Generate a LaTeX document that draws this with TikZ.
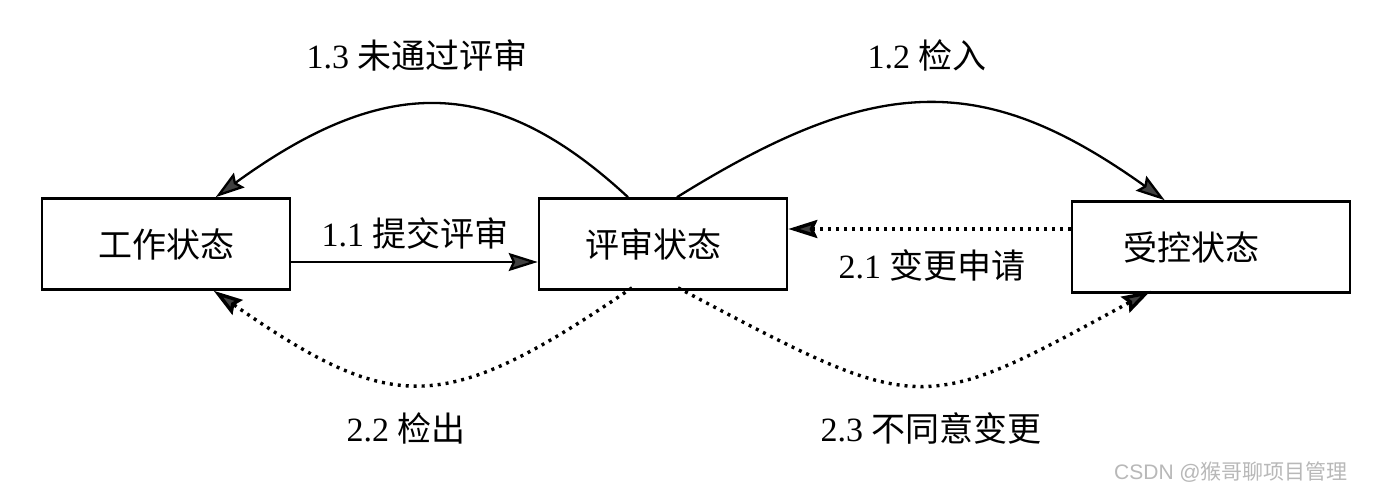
\documentclass[tikz,border=0pt]{standalone}
\usepackage{fontspec}
\setmainfont{Liberation Serif}
\setsansfont{Liberation Sans}
\newfontfamily\cjk{Noto Sans CJK SC}
\usetikzlibrary{arrows.meta,calc}
\begin{document}
\begin{tikzpicture}[x=1pt,y=-1pt,
  statebox/.style={draw=black,line width=2.6pt,minimum height=91pt,inner sep=0pt,
    font=\fontsize{34}{40}\selectfont\cjk},
  lbl/.style={font=\fontsize{34}{40}\selectfont, inner sep=0pt},
  tip/.style={-{Stealth[length=29pt,width=18pt,inset=4pt,fill=black!75]}},
  solidarrow/.style={tip,line width=2.3pt},
  dotarrow/.style={tip,line width=3.4pt,dash pattern=on 3pt off 5pt}]
\useasboundingbox[fill=white] (0,0) rectangle (1381,500);

\node[statebox,minimum width=248pt] (work) at (166,244) {工作状态};
\node[statebox,minimum width=248pt] (rev) at (663,244) {评审状态\hspace*{20pt}};
\node[statebox,minimum width=278pt] (ctrl) at (1211,247) {受控状态\hspace*{40pt}};

% 1.1
\draw[solidarrow] (work.east |- 0,262) -- (rev.west |- 0,262);
% 2.1
\draw[dotarrow] (ctrl.west |- 0,229) -- (rev.east |- 0,229);
% 1.3
\draw[solidarrow] ([xshift=-35pt]rev.north) .. controls (495,74) and (385,74) .. ([xshift=175pt]work.north west);
% 1.2
\draw[solidarrow] ([xshift=14pt]rev.north) .. controls (878,72) and (985,72) .. ([xshift=94pt]ctrl.north west);
% 2.2
\draw[dotarrow] ([xshift=-31pt,yshift=3pt]rev.south) .. controls (444,416) and (394,416) .. ([xshift=173pt]work.south west);
% 2.3
\draw[dotarrow] ([xshift=15pt,yshift=3pt]rev.south) .. controls (922,417) and (919,417) .. ([xshift=80pt,yshift=3pt]ctrl.south west);

\node[lbl] (l13) at (417,55) {1.3 {\cjk 未通过评审}};
\node[lbl] (l12) at (927,55) {1.2 {\cjk 检入}};
\node[lbl] (l11) at (415,233) {1.1 {\cjk 提交评审}};
\node[lbl] (l21) at (932,265) {2.1 {\cjk 变更申请}};
\node[lbl] (l22) at (406,428) {2.2 {\cjk 检出}};
\node[lbl] (l23) at (931,428) {2.3 {\cjk 不同意变更}};

\node[font=\fontsize{21}{24}\selectfont\sffamily, text=black!28, inner sep=0pt] (wm) at (1231,472) {CSDN @{\cjk 猴哥聊项目管理}};
\end{tikzpicture}
\end{document}
